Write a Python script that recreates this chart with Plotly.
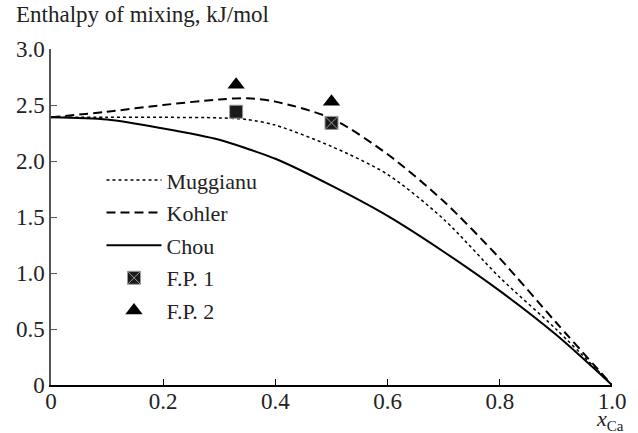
import plotly.graph_objects as go

# composition x_Ca
x_grid = [0.0, 0.1, 0.2, 0.3, 0.35, 0.4, 0.5, 0.6, 0.7, 0.8, 0.9, 1.0]
muggianu = [2.39, 2.39, 2.39, 2.385, 2.37, 2.32, 2.13, 1.88, 1.48, 0.96, 0.50, 0.0]
kohler = [2.39, 2.44, 2.50, 2.55, 2.56, 2.53, 2.38, 2.06, 1.64, 1.13, 0.56, 0.0]
chou = [2.39, 2.37, 2.29, 2.19, 2.11, 2.02, 1.78, 1.51, 1.19, 0.84, 0.45, 0.0]

fp1_x = [0.5, 0.33]
fp1_y = [2.34, 2.44]
fp2_x = [0.33, 0.5]
fp2_y = [2.68, 2.53]

xtick_vals = [0, 0.2, 0.4, 0.6, 0.8, 1.0]
xtick_text = ["0", "0.2", "0.4", "0.6", "0.8", "1.0"]
ytick_vals = [0, 0.5, 1.0, 1.5, 2.0, 2.5, 3.0]
ytick_text = ["0", "0.5", "1.0", "1.5", "2.0", "2.5", "3.0"]

FONT = "Liberation Serif"
FS = 23

fig = go.Figure()
fig.add_trace(go.Scatter(x=x_grid, y=muggianu, mode="lines", name="Muggianu",
                         line=dict(color="black", width=1.5, dash="dot", shape="spline", smoothing=0.8),
                         legendgroup="a"))
fig.add_trace(go.Scatter(x=x_grid, y=kohler, mode="lines", name="Kohler",
                         line=dict(color="black", width=2, dash="9px,5px", shape="spline", smoothing=0.8),
                         legendgroup="b"))
fig.add_trace(go.Scatter(x=x_grid, y=chou, mode="lines", name="Chou",
                         line=dict(color="black", width=2, shape="spline", smoothing=0.8),
                         legendgroup="c"))
fig.add_trace(go.Scatter(x=fp1_x, y=fp1_y, mode="markers", name="F.P. 1",
                         marker=dict(symbol=["square-x", "square"], size=13, color="#1a1a1a",
                                     line=dict(color="#9a9a9a", width=1)),
                         legendgroup="d"))
fig.add_trace(go.Scatter(x=fp2_x, y=fp2_y, mode="markers", name="F.P. 2",
                         marker=dict(symbol="triangle-up", size=15, color="black"),
                         legendgroup="e"))

fig.update_layout(
    width=638, height=433,
    margin=dict(l=51, r=15, t=49, b=48),
    paper_bgcolor="white", plot_bgcolor="white",
    font=dict(family=FONT, size=FS, color="#222"),
    showlegend=True,
    legend=dict(x=0.09, y=0.672, xanchor="left", yanchor="top",
                bgcolor="rgba(0,0,0,0)", font=dict(family=FONT, size=22, color="#222"),
                tracegroupgap=1, itemwidth=55),
    xaxis=dict(range=[0, 1.0], tickvals=xtick_vals, ticktext=xtick_text,
               ticks="inside", ticklen=6, tickcolor="black", tickwidth=1.2,
               showline=True, linecolor="black", linewidth=1.5,
               showgrid=False, zeroline=False, fixedrange=True,
               ticklabelstandoff=-5,
               tickfont=dict(family=FONT, size=FS, color="#222")),
    yaxis=dict(range=[0, 3.0], tickvals=ytick_vals, ticktext=ytick_text,
               ticks="inside", ticklen=6, tickcolor="#555", tickwidth=1.2,
               showline=True, linecolor="#555", linewidth=1.5,
               showgrid=False, zeroline=False, fixedrange=True,
               tickfont=dict(family=FONT, size=FS, color="#222")),
    annotations=[
        dict(text="Enthalpy of mixing, kJ/mol", xref="paper", yref="paper",
             x=-0.066, y=1.0, yshift=20, xanchor="left", yanchor="bottom",
             showarrow=False, font=dict(family=FONT, size=FS, color="#222")),
        dict(text="<i>x</i><sub><span style='font-size:15px'>Ca</span></sub>",
             xref="paper", yref="paper",
             x=1.0, y=0, xshift=14, yshift=-51, xanchor="right", yanchor="bottom",
             showarrow=False, font=dict(family=FONT, size=22, color="#222")),
    ],
)

fig.write_html("out.html")
